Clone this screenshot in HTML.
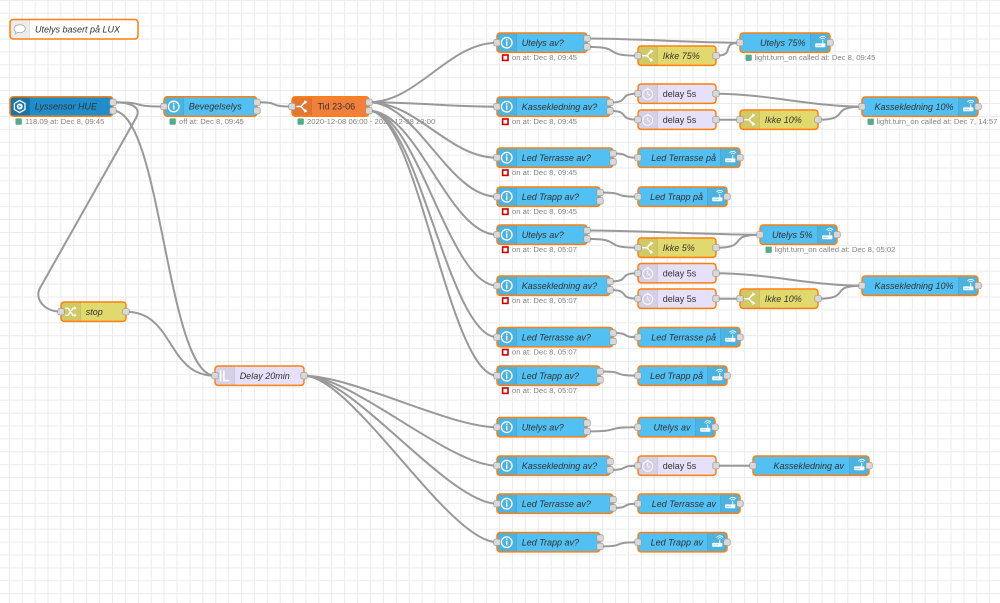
<!DOCTYPE html>
<html><head><meta charset="utf-8">
<style>
html,body{margin:0;padding:0;background:#fff;}
svg{display:block;}
text{font-family:"Liberation Sans",Arial,sans-serif;}
.l{font-size:9px;fill:#333;font-style:italic;}
.n{font-size:9px;fill:#333;}
.s{font-size:7.7px;fill:#858585;}
.w{fill:none;stroke:#999;stroke-width:2;}
.o{fill:none;stroke:#ff7f0e;stroke-width:1.5;}
.hb{fill:#52c0f2;}
.yw{fill:#e2d96e;}
.pu{fill:#e6e0f8;}
.gs{fill:#5a8;}
.rs{fill:#fff;stroke:#c00;stroke-width:1.6;}
</style></head><body>
<svg width="1000" height="603" viewBox="0 0 1000 603" xmlns="http://www.w3.org/2000/svg">
<defs>
<pattern id="grid" width="12.9" height="12.9" patternUnits="userSpaceOnUse" x="8.8" y="-0.2">
<path d="M0 0.5H12.9M0.5 0V12.9" stroke="#ebebeb" stroke-width="1" fill="none"/>
</pattern>
<path id="shL" d="M3.2 0H19.4V19.4H3.2A3.2 3.2 0 0 1 0 16.2V3.2A3.2 3.2 0 0 1 3.2 0Z"/>
<g id="shadeL"><path d="M3.2 0H19.4V19.4H3.2A3.2 3.2 0 0 1 0 16.2V3.2A3.2 3.2 0 0 1 3.2 0Z" fill="#000" fill-opacity=".07"/><path d="M19.4 0V19.4" stroke="#000" stroke-opacity=".12" stroke-width=".7"/></g>
<g id="shadeR"><path d="M0 0H16.2A3.2 3.2 0 0 1 19.4 3.2V16.2A3.2 3.2 0 0 1 16.2 19.4H0Z" fill="#000" fill-opacity=".07"/><path d="M0 0V19.4" stroke="#000" stroke-opacity=".12" stroke-width=".7"/></g>
<rect id="port" x="-3.25" y="-3.25" width="6.5" height="6.5" rx="1.8" fill="#d9d9d9" stroke="#999" stroke-width="0.7"/>
<g id="info"><circle cx="9.7" cy="9.7" r="5.3" fill="none" stroke="#fff" stroke-width="1.3"/><circle cx="9.7" cy="6.9" r="0.9" fill="#fff"/><rect x="9" y="8.4" width="1.4" height="4.3" fill="#fff"/></g>
<g id="svc"><rect x="4.6" y="10.4" width="10.2" height="3.8" rx="0.7" fill="#fff"/><rect x="6" y="11.9" width="1" height="0.9" fill="#52c0f2"/><rect x="7.8" y="11.9" width="1" height="0.9" fill="#52c0f2"/><rect x="9.6" y="11.9" width="1" height="0.9" fill="#52c0f2"/><rect x="11.7" y="7" width="0.9" height="3.5" fill="#fff"/><path d="M10.2 6.2A2.3 2.3 0 0 1 14.1 6.2M8.9 5A4 4 0 0 1 15.4 5" fill="none" stroke="#fff" stroke-width="0.8"/></g>
<g id="sw"><path d="M4.3 9.7H8.3C10.3 9.7 10.6 6.4 13 5.6M8.3 9.7C10.3 9.7 10.6 13 13 13.8" fill="none" stroke="#fff" stroke-width="1.5"/><path d="M12 3.4L15.4 5L12.6 7.6Z M12 16L15.4 14.4L12.6 11.8Z" fill="#fff"/></g>
<g id="clk" fill="none" stroke="#fff" stroke-opacity="0.9" stroke-width="1"><circle cx="9.7" cy="10.3" r="5"/><path d="M9.7 10.3V7.2M9.7 10.3L11.8 11.7M8.6 4.3H10.8"/></g>
<path id="trg" d="M5.6 4.4V15.4M8.8 4.4V14.6H14.2" fill="none" stroke="#fff" stroke-width="1.6"/>
<g id="chg"><path d="M4.3 6.2H7L12 13.3H14M4.3 13.3H7L12 6.2H14" fill="none" stroke="#fff" stroke-width="1.3"/><path d="M13.4 4.3L15.6 6.2L13.4 8.1Z M13.4 11.4L15.6 13.3L13.4 15.2Z" fill="#fff"/></g>
<g id="hex"><polygon points="9.7,3.6 15,6.7 15,12.7 9.7,15.8 4.4,12.7 4.4,6.7" fill="none" stroke="#fff" stroke-width="1.3"/><circle cx="9.7" cy="9.7" r="3" fill="#fff"/><path d="M8.5 8.2L11.3 9.7L8.5 11.2Z" fill="#1f8dcb"/></g>
<g id="bub"><path d="M9.7 5.3C13.2 5.3 15.3 7 15.3 9.2C15.3 11.4 13.2 13 9.7 13C9 13 8.4 12.9 7.8 12.8L5.3 14.5L5.9 12.2C4.7 11.5 4.1 10.4 4.1 9.2C4.1 7 6.2 5.3 9.7 5.3Z" fill="#fff" stroke="#aaa" stroke-width="0.8"/></g>
</defs>

<rect width="1000" height="603" fill="#fff"/>
<rect width="1000" height="603" fill="url(#grid)"/>

<!-- Tid status (under wires) -->
<rect x="297.5" y="118.4" width="6.3" height="6.3" rx="1" class="gs"/>
<text x="307" y="124" class="s">2020-12-08 06:00 - 2020-12-08 23:00</text>

<!-- wires -->
<g class="w">
<path d="M113 102.3C151.5 102.3 125.5 106.5 164 106.5"/>
<path d="M113 102.3C128 102.3 142.9 105.8 136 118L40 288C34.1 298.4 44 311.7 61 311.7"/>
<path d="M113 110.7C161.4 110.7 166.6 375.7 215 375.7"/>
<path d="M126 311.7C174.4 311.7 166.6 375.7 215 375.7"/>
<path d="M257 102.3C283.5 102.3 265.5 106.5 292 106.5"/>
<path d="M369 102.3C417.4 102.3 448.6 42.7 497 42.7"/>
<path d="M369 102.3C417.4 102.3 448.6 106.7 497 106.7"/>
<path d="M369 102.3C417.4 102.3 448.6 157.7 497 157.7"/>
<path d="M369 102.3C417.4 102.3 448.6 196.7 497 196.7"/>
<path d="M369 110.7C417.4 110.7 448.6 234.7 497 234.7"/>
<path d="M369 110.7C417.4 110.7 448.6 285.7 497 285.7"/>
<path d="M369 110.7C417.4 110.7 448.6 337.2 497 337.2"/>
<path d="M369 110.7C417.4 110.7 448.6 375.7 497 375.7"/>
<path d="M304 375.7C352.4 375.7 448.6 427.2 497 427.2"/>
<path d="M304 375.7C352.4 375.7 448.6 465.7 497 465.7"/>
<path d="M304 375.7C352.4 375.7 448.6 503.7 497 503.7"/>
<path d="M304 375.7C352.4 375.7 448.6 542.2 497 542.2"/>
<!-- group 1 -->
<path d="M587 38.5C635.4 38.5 691.6 42.7 740 42.7"/>
<path d="M587 46.9C625.8 46.9 599.2 55.7 638 55.7"/>
<path d="M716 55.7C736.5 55.7 719.5 42.7 740 42.7"/>
<path d="M610 102.5C632 102.5 616 93.7 638 93.7"/>
<path d="M610 110.9C632 110.9 616 119.7 638 119.7"/>
<path d="M716 93.7C764.4 93.7 813.6 106.7 862 106.7"/>
<path d="M716 119.7L740 119.7"/>
<path d="M818 119.7C852.4 119.7 827.6 106.7 862 106.7"/>
<path d="M613 153.5C632 153.5 619 157.7 638 157.7"/>
<path d="M600 192.5C628.7 192.5 609.3 196.7 638 196.7"/>
<!-- group 2 -->
<path d="M587 230.5C635.4 230.5 711.6 234.7 760 234.7"/>
<path d="M587 238.9C625.8 238.9 599.2 247.7 638 247.7"/>
<path d="M716 247.7C750.4 247.7 725.6 234.7 760 234.7"/>
<path d="M610 281.5C631.9 281.5 616.1 273.2 638 273.2"/>
<path d="M610 289.9C632 289.9 616 298.7 638 298.7"/>
<path d="M716 273.2C764.4 273.2 813.6 285.7 862 285.7"/>
<path d="M716 298.7L740 298.7"/>
<path d="M818 298.7C852.4 298.7 827.6 285.7 862 285.7"/>
<path d="M613 333C632 333 619 337.2 638 337.2"/>
<path d="M600 371.5C628.7 371.5 609.3 375.7 638 375.7"/>
<!-- group 3 -->
<path d="M587 431.4C625.4 431.4 599.6 427.2 638 427.2"/>
<path d="M610 469.9C631.2 469.9 616.8 465.7 638 465.7"/>
<path d="M716 465.7L753 465.7"/>
<path d="M613 507.9C632 507.9 619 503.7 638 503.7"/>
<path d="M600 546.4C628.7 546.4 609.3 542.2 638 542.2"/>
</g>

<!-- Comment -->
<g transform="translate(10,19.5)">
<rect width="128" height="19.5" rx="3.2" fill="#fff"/>
<use href="#shadeL"/>
<use href="#bub"/>
<text x="25" y="13" class="l">Utelys basert på LUX</text>
<rect width="128" height="19.5" rx="3.2" class="o"/>
</g>

<!-- Lyssensor HUE -->
<g transform="translate(10,96.8)">
<rect width="103" height="19.4" rx="3.2" fill="#1f8dcb"/>
<use href="#shL" fill="#000" fill-opacity=".1"/>
<use href="#shadeL"/>
<use href="#hex"/>
<text x="24.7" y="12.9" class="l">Lyssensor HUE</text>
<rect width="103" height="19.4" rx="3.2" class="o"/>
<use href="#port" x="103" y="5.5"/>
<use href="#port" x="103" y="13.9"/>
<rect x="5.5" y="21.6" width="6.3" height="6.3" rx="1" class="gs"/>
<text x="15" y="27.2" class="s">118.09 at: Dec 8, 09:45</text>
</g>

<!-- Bevegelselys -->
<g transform="translate(164,96.8)">
<rect width="93" height="19.4" rx="3.2" class="hb"/>
<use href="#shadeL"/><use href="#info"/>
<text x="24.7" y="12.9" class="l">Bevegelselys</text>
<rect width="93" height="19.4" rx="3.2" class="o"/>
<use href="#port" y="9.7"/>
<use href="#port" x="93" y="5.5"/>
<use href="#port" x="93" y="13.9"/>
<rect x="5.5" y="21.6" width="6.3" height="6.3" rx="1" class="gs"/>
<text x="15" y="27.2" class="s">off at: Dec 8, 09:45</text>
</g>

<!-- Tid 23-06 -->
<g transform="translate(292,96.8)">
<rect width="77" height="19.4" rx="3.2" fill="#f3803a"/>
<use href="#shadeL"/><use href="#sw"/>
<text x="25.5" y="12.9" class="n">Tid 23-06</text>
<rect width="77" height="19.4" rx="3.2" class="o"/>
<use href="#port" y="9.7"/>
<use href="#port" x="77" y="5.5"/>
<use href="#port" x="77" y="13.9"/>
</g>

<!-- stop -->
<g transform="translate(61,302)">
<rect width="65" height="19.4" rx="3.2" class="yw"/>
<use href="#shadeL"/><use href="#chg"/>
<text x="24.7" y="12.9" class="l">stop</text>
<rect width="65" height="19.4" rx="3.2" class="o"/>
<use href="#port" y="9.7"/>
<use href="#port" x="65" y="9.7"/>
</g>

<!-- Delay 20min -->
<g transform="translate(215,366)">
<rect width="89" height="19.4" rx="3.2" class="pu"/>
<use href="#shadeL"/><use href="#trg"/>
<text x="24.7" y="12.9" class="l">Delay 20min</text>
<rect width="89" height="19.4" rx="3.2" class="o"/>
<use href="#port" y="9.7"/>
<use href="#port" x="89" y="9.7"/>
</g>

<!-- ===== GROUP 1 ===== -->
<g transform="translate(497,33)">
<rect width="90" height="19.4" rx="3.2" class="hb"/>
<use href="#shadeL"/><use href="#info"/>
<text x="24.7" y="12.9" class="l">Utelys av?</text>
<rect width="90" height="19.4" rx="3.2" class="o"/>
<use href="#port" y="9.7"/><use href="#port" x="90" y="5.5"/><use href="#port" x="90" y="13.9"/>
<rect x="5.6" y="22" width="5.4" height="5.4" class="rs"/>
<text x="15" y="27.2" class="s">on at: Dec 8, 09:45</text>
</g>
<g transform="translate(638,46)">
<rect width="78" height="19.4" rx="3.2" class="yw"/>
<use href="#shadeL"/><use href="#sw"/>
<text x="24.7" y="12.9" class="l">Ikke 75%</text>
<rect width="78" height="19.4" rx="3.2" class="o"/>
<use href="#port" y="9.7"/><use href="#port" x="78" y="9.7"/>
</g>
<g transform="translate(740,33)">
<rect width="90" height="19.4" rx="3.2" class="hb"/>
<use href="#shadeR" x="70.6"/><use href="#svc" x="70.6"/>
<text x="65.5" y="12.9" class="l" text-anchor="end">Utelys 75%</text>
<rect width="90" height="19.4" rx="3.2" class="o"/>
<use href="#port" y="9.7"/><use href="#port" x="90" y="9.7"/>
<rect x="5.5" y="21.6" width="6.3" height="6.3" rx="1" class="gs"/>
<text x="14.5" y="27.2" class="s">light.turn_on called at: Dec 8, 09:45</text>
</g>
<g transform="translate(497,97)">
<rect width="113" height="19.4" rx="3.2" class="hb"/>
<use href="#shadeL"/><use href="#info"/>
<text x="24.7" y="12.9" class="l">Kassekledning av?</text>
<rect width="113" height="19.4" rx="3.2" class="o"/>
<use href="#port" y="9.7"/><use href="#port" x="113" y="5.5"/><use href="#port" x="113" y="13.9"/>
<rect x="5.6" y="22" width="5.4" height="5.4" class="rs"/>
<text x="15" y="27.2" class="s">on at: Dec 8, 09:45</text>
</g>
<g transform="translate(638,84)">
<rect width="78" height="19.4" rx="3.2" class="pu"/>
<use href="#shadeL"/><use href="#clk"/>
<text x="24.7" y="12.9" class="n">delay 5s</text>
<rect width="78" height="19.4" rx="3.2" class="o"/>
<use href="#port" y="9.7"/><use href="#port" x="78" y="9.7"/>
</g>
<g transform="translate(638,110)">
<rect width="78" height="19.4" rx="3.2" class="pu"/>
<use href="#shadeL"/><use href="#clk"/>
<text x="24.7" y="12.9" class="n">delay 5s</text>
<rect width="78" height="19.4" rx="3.2" class="o"/>
<use href="#port" y="9.7"/><use href="#port" x="78" y="9.7"/>
</g>
<g transform="translate(740,110)">
<rect width="78" height="19.4" rx="3.2" class="yw"/>
<use href="#shadeL"/><use href="#sw"/>
<text x="24.7" y="12.9" class="l">Ikke 10%</text>
<rect width="78" height="19.4" rx="3.2" class="o"/>
<use href="#port" y="9.7"/><use href="#port" x="78" y="9.7"/>
</g>
<g transform="translate(862,97)">
<rect width="116" height="19.4" rx="3.2" class="hb"/>
<use href="#shadeR" x="96.6"/><use href="#svc" x="96.6"/>
<text x="91.5" y="12.9" class="l" text-anchor="end">Kassekledning 10%</text>
<rect width="116" height="19.4" rx="3.2" class="o"/>
<use href="#port" y="9.7"/><use href="#port" x="116" y="9.7"/>
<rect x="5.5" y="21.6" width="6.3" height="6.3" rx="1" class="gs"/>
<text x="14.5" y="27.2" class="s">light.turn_on called at: Dec 7, 14:57</text>
</g>
<g transform="translate(497,148)">
<rect width="116" height="19.4" rx="3.2" class="hb"/>
<use href="#shadeL"/><use href="#info"/>
<text x="24.7" y="12.9" class="l">Led Terrasse av?</text>
<rect width="116" height="19.4" rx="3.2" class="o"/>
<use href="#port" y="9.7"/><use href="#port" x="116" y="5.5"/><use href="#port" x="116" y="13.9"/>
<rect x="5.6" y="22" width="5.4" height="5.4" class="rs"/>
<text x="15" y="27.2" class="s">on at: Dec 8, 09:45</text>
</g>
<g transform="translate(638,148)">
<rect width="102" height="19.4" rx="3.2" class="hb"/>
<use href="#shadeR" x="82.6"/><use href="#svc" x="82.6"/>
<text x="78" y="12.9" class="l" text-anchor="end">Led Terrasse på</text>
<rect width="102" height="19.4" rx="3.2" class="o"/>
<use href="#port" y="9.7"/><use href="#port" x="102" y="9.7"/>
</g>
<g transform="translate(497,187)">
<rect width="103" height="19.4" rx="3.2" class="hb"/>
<use href="#shadeL"/><use href="#info"/>
<text x="24.7" y="12.9" class="l">Led Trapp av?</text>
<rect width="103" height="19.4" rx="3.2" class="o"/>
<use href="#port" y="9.7"/><use href="#port" x="103" y="5.5"/><use href="#port" x="103" y="13.9"/>
<rect x="5.6" y="22" width="5.4" height="5.4" class="rs"/>
<text x="15" y="27.2" class="s">on at: Dec 8, 09:45</text>
</g>
<g transform="translate(638,187)">
<rect width="89" height="19.4" rx="3.2" class="hb"/>
<use href="#shadeR" x="69.6"/><use href="#svc" x="69.6"/>
<text x="65" y="12.9" class="l" text-anchor="end">Led Trapp på</text>
<rect width="89" height="19.4" rx="3.2" class="o"/>
<use href="#port" y="9.7"/><use href="#port" x="89" y="9.7"/>
</g>

<!-- ===== GROUP 2 ===== -->
<g transform="translate(497,225)">
<rect width="90" height="19.4" rx="3.2" class="hb"/>
<use href="#shadeL"/><use href="#info"/>
<text x="24.7" y="12.9" class="l">Utelys av?</text>
<rect width="90" height="19.4" rx="3.2" class="o"/>
<use href="#port" y="9.7"/><use href="#port" x="90" y="5.5"/><use href="#port" x="90" y="13.9"/>
<rect x="5.6" y="22" width="5.4" height="5.4" class="rs"/>
<text x="15" y="27.2" class="s">on at: Dec 8, 05:07</text>
</g>
<g transform="translate(638,238)">
<rect width="78" height="19.4" rx="3.2" class="yw"/>
<use href="#shadeL"/><use href="#sw"/>
<text x="24.7" y="12.9" class="l">Ikke 5%</text>
<rect width="78" height="19.4" rx="3.2" class="o"/>
<use href="#port" y="9.7"/><use href="#port" x="78" y="9.7"/>
</g>
<g transform="translate(760,225)">
<rect width="77" height="19.4" rx="3.2" class="hb"/>
<use href="#shadeR" x="57.6"/><use href="#svc" x="57.6"/>
<text x="52.5" y="12.9" class="l" text-anchor="end">Utelys 5%</text>
<rect width="77" height="19.4" rx="3.2" class="o"/>
<use href="#port" y="9.7"/><use href="#port" x="77" y="9.7"/>
<rect x="5.5" y="21.6" width="6.3" height="6.3" rx="1" class="gs"/>
<text x="14.5" y="27.2" class="s">light.turn_on called at: Dec 8, 05:02</text>
</g>
<g transform="translate(497,276)">
<rect width="113" height="19.4" rx="3.2" class="hb"/>
<use href="#shadeL"/><use href="#info"/>
<text x="24.7" y="12.9" class="l">Kassekledning av?</text>
<rect width="113" height="19.4" rx="3.2" class="o"/>
<use href="#port" y="9.7"/><use href="#port" x="113" y="5.5"/><use href="#port" x="113" y="13.9"/>
<rect x="5.6" y="22" width="5.4" height="5.4" class="rs"/>
<text x="15" y="27.2" class="s">on at: Dec 8, 05:07</text>
</g>
<g transform="translate(638,263.5)">
<rect width="78" height="19.4" rx="3.2" class="pu"/>
<use href="#shadeL"/><use href="#clk"/>
<text x="24.7" y="12.9" class="n">delay 5s</text>
<rect width="78" height="19.4" rx="3.2" class="o"/>
<use href="#port" y="9.7"/><use href="#port" x="78" y="9.7"/>
</g>
<g transform="translate(638,289)">
<rect width="78" height="19.4" rx="3.2" class="pu"/>
<use href="#shadeL"/><use href="#clk"/>
<text x="24.7" y="12.9" class="n">delay 5s</text>
<rect width="78" height="19.4" rx="3.2" class="o"/>
<use href="#port" y="9.7"/><use href="#port" x="78" y="9.7"/>
</g>
<g transform="translate(740,289)">
<rect width="78" height="19.4" rx="3.2" class="yw"/>
<use href="#shadeL"/><use href="#sw"/>
<text x="24.7" y="12.9" class="l">Ikke 10%</text>
<rect width="78" height="19.4" rx="3.2" class="o"/>
<use href="#port" y="9.7"/><use href="#port" x="78" y="9.7"/>
</g>
<g transform="translate(862,276)">
<rect width="116" height="19.4" rx="3.2" class="hb"/>
<use href="#shadeR" x="96.6"/><use href="#svc" x="96.6"/>
<text x="91.5" y="12.9" class="l" text-anchor="end">Kassekledning 10%</text>
<rect width="116" height="19.4" rx="3.2" class="o"/>
<use href="#port" y="9.7"/><use href="#port" x="116" y="9.7"/>
</g>
<g transform="translate(497,327.5)">
<rect width="116" height="19.4" rx="3.2" class="hb"/>
<use href="#shadeL"/><use href="#info"/>
<text x="24.7" y="12.9" class="l">Led Terrasse av?</text>
<rect width="116" height="19.4" rx="3.2" class="o"/>
<use href="#port" y="9.7"/><use href="#port" x="116" y="5.5"/><use href="#port" x="116" y="13.9"/>
<rect x="5.6" y="22" width="5.4" height="5.4" class="rs"/>
<text x="15" y="27.2" class="s">on at: Dec 8, 05:07</text>
</g>
<g transform="translate(638,327.5)">
<rect width="102" height="19.4" rx="3.2" class="hb"/>
<use href="#shadeR" x="82.6"/><use href="#svc" x="82.6"/>
<text x="78" y="12.9" class="l" text-anchor="end">Led Terrasse på</text>
<rect width="102" height="19.4" rx="3.2" class="o"/>
<use href="#port" y="9.7"/><use href="#port" x="102" y="9.7"/>
</g>
<g transform="translate(497,366)">
<rect width="103" height="19.4" rx="3.2" class="hb"/>
<use href="#shadeL"/><use href="#info"/>
<text x="24.7" y="12.9" class="l">Led Trapp av?</text>
<rect width="103" height="19.4" rx="3.2" class="o"/>
<use href="#port" y="9.7"/><use href="#port" x="103" y="5.5"/><use href="#port" x="103" y="13.9"/>
<rect x="5.6" y="22" width="5.4" height="5.4" class="rs"/>
<text x="15" y="27.2" class="s">on at: Dec 8, 05:07</text>
</g>
<g transform="translate(638,366)">
<rect width="89" height="19.4" rx="3.2" class="hb"/>
<use href="#shadeR" x="69.6"/><use href="#svc" x="69.6"/>
<text x="65" y="12.9" class="l" text-anchor="end">Led Trapp på</text>
<rect width="89" height="19.4" rx="3.2" class="o"/>
<use href="#port" y="9.7"/><use href="#port" x="89" y="9.7"/>
</g>

<!-- ===== GROUP 3 ===== -->
<g transform="translate(497,417.5)">
<rect width="90" height="19.4" rx="3.2" class="hb"/>
<use href="#shadeL"/><use href="#info"/>
<text x="24.7" y="12.9" class="l">Utelys av?</text>
<rect width="90" height="19.4" rx="3.2" class="o"/>
<use href="#port" y="9.7"/><use href="#port" x="90" y="5.5"/><use href="#port" x="90" y="13.9"/>
</g>
<g transform="translate(638,417.5)">
<rect width="77" height="19.4" rx="3.2" class="hb"/>
<use href="#shadeR" x="57.6"/><use href="#svc" x="57.6"/>
<text x="52.5" y="12.9" class="l" text-anchor="end">Utelys av</text>
<rect width="77" height="19.4" rx="3.2" class="o"/>
<use href="#port" y="9.7"/><use href="#port" x="77" y="9.7"/>
</g>
<g transform="translate(497,456)">
<rect width="113" height="19.4" rx="3.2" class="hb"/>
<use href="#shadeL"/><use href="#info"/>
<text x="24.7" y="12.9" class="l">Kassekledning av?</text>
<rect width="113" height="19.4" rx="3.2" class="o"/>
<use href="#port" y="9.7"/><use href="#port" x="113" y="5.5"/><use href="#port" x="113" y="13.9"/>
</g>
<g transform="translate(638,456)">
<rect width="78" height="19.4" rx="3.2" class="pu"/>
<use href="#shadeL"/><use href="#clk"/>
<text x="24.7" y="12.9" class="n">delay 5s</text>
<rect width="78" height="19.4" rx="3.2" class="o"/>
<use href="#port" y="9.7"/><use href="#port" x="78" y="9.7"/>
</g>
<g transform="translate(753,456)">
<rect width="116" height="19.4" rx="3.2" class="hb"/>
<use href="#shadeR" x="96.6"/><use href="#svc" x="96.6"/>
<text x="91" y="12.9" class="l" text-anchor="end">Kassekledning av</text>
<rect width="116" height="19.4" rx="3.2" class="o"/>
<use href="#port" y="9.7"/><use href="#port" x="116" y="9.7"/>
</g>
<g transform="translate(497,494)">
<rect width="116" height="19.4" rx="3.2" class="hb"/>
<use href="#shadeL"/><use href="#info"/>
<text x="24.7" y="12.9" class="l">Led Terrasse av?</text>
<rect width="116" height="19.4" rx="3.2" class="o"/>
<use href="#port" y="9.7"/><use href="#port" x="116" y="5.5"/><use href="#port" x="116" y="13.9"/>
</g>
<g transform="translate(638,494)">
<rect width="102" height="19.4" rx="3.2" class="hb"/>
<use href="#shadeR" x="82.6"/><use href="#svc" x="82.6"/>
<text x="78" y="12.9" class="l" text-anchor="end">Led Terrasse av</text>
<rect width="102" height="19.4" rx="3.2" class="o"/>
<use href="#port" y="9.7"/><use href="#port" x="102" y="9.7"/>
</g>
<g transform="translate(497,532.5)">
<rect width="103" height="19.4" rx="3.2" class="hb"/>
<use href="#shadeL"/><use href="#info"/>
<text x="24.7" y="12.9" class="l">Led Trapp av?</text>
<rect width="103" height="19.4" rx="3.2" class="o"/>
<use href="#port" y="9.7"/><use href="#port" x="103" y="5.5"/><use href="#port" x="103" y="13.9"/>
</g>
<g transform="translate(638,532.5)">
<rect width="89" height="19.4" rx="3.2" class="hb"/>
<use href="#shadeR" x="69.6"/><use href="#svc" x="69.6"/>
<text x="65" y="12.9" class="l" text-anchor="end">Led Trapp av</text>
<rect width="89" height="19.4" rx="3.2" class="o"/>
<use href="#port" y="9.7"/><use href="#port" x="89" y="9.7"/>
</g>
</svg>
</body></html>
